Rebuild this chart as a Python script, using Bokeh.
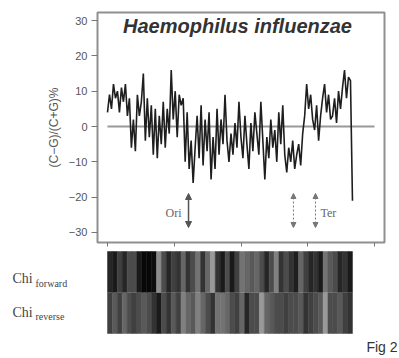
import numpy as np
from bokeh.plotting import figure
from bokeh.layouts import column
from bokeh.models import Range1d, Label, Arrow, NormalHead, FixedTicker, Title
from bokeh.embed import file_html
from bokeh.resources import INLINE

# ---------------- data ----------------
genome_length_mb = 1.835
skew_values = [
    4, 9, 5, 12, 8, 10, 4, 11, 7, 12, 3, 8, -6, 2, -7, 9, 3, 7, 15, -4,
    8, -3, 6, -8, 5, -9, 3, -5, 7, -6, 5, -2, 16, 2, 10, -3, 9, 6, 8, -10,
    4, -12, -4, -16, -6, 3, -9, 6, -11, 2, -7, 4, -15, -3, -12, 5, -8, 2, -5, 9,
    -4, -10, -2, -8, 1, -6, 7, -3, -9, 3, -5, -12, 1, -7, 4, -2, -8, 7, -4, -15,
    -3, -9, 2, -6, -1, -10, 4, -5, 6, -8, -13, -6, -10, -4, -12, -8, -5, -11, -2, 3,
    12, 5, 9, 2, -1, 6, -4, 3, 8, 12, 4, 9, 2, 3, 8, 1, 10, 5, 11, 16,
    8, 14, 13, -21,
]
x_ticks = [0, 0.5, 1.0, 1.5, 2.0]
y_ticks = [-30, -20, -10, 0, 10, 20, 30]

ori_pos = 0.607
ter_pos = [1.393, 1.558]

chi_forward = [
    0.15, 0.10, 0.25, 0.15, 0.30, 0.30, 0.10, 0.03, 0.03, 0.05,
    0.55, 0.30, 0.15, 0.25, 0.20, 0.40, 0.20, 0.30, 0.45, 0.20,
    0.40, 0.60, 0.20, 0.10, 0.30, 0.10, 0.25, 0.45, 0.40, 0.35,
    0.40, 0.30, 0.15, 0.30, 0.50, 0.20, 0.30, 0.20, 0.12, 0.40,
    0.25, 0.15, 0.20, 0.10, 0.45, 0.35, 0.30, 0.15, 0.20, 0.10,
]
chi_reverse = [
    0.25, 0.35, 0.25, 0.40, 0.30, 0.25, 0.30, 0.35, 0.30, 0.20,
    0.10, 0.30, 0.20, 0.35, 0.25, 0.50, 0.40, 0.35, 0.50, 0.40,
    0.30, 0.20, 0.45, 0.45, 0.40, 0.30, 0.25, 0.40, 0.15, 0.30,
    0.30, 0.60, 0.40, 0.35, 0.30, 0.30, 0.25, 0.30, 0.30, 0.35,
    0.20, 0.25, 0.30, 0.35, 0.60, 0.30, 0.30, 0.35, 0.25, 0.20,
]

# ---------------- layout helpers ----------------
PX0 = 107.0      # screen px of position 0
PX_PER_MB = 133.5
def px2mb(px):
    return (px - PX0) / PX_PER_MB

Y0 = 126.0
PX_PER_UNIT = 3.533
def py2val(py):
    return (Y0 - py) / PX_PER_UNIT

positions = np.linspace(0, genome_length_mb, len(skew_values))

# ---------------- top chart ----------------
p = figure(width=399, height=250, output_backend="svg", toolbar_location=None,
           x_range=Range1d(px2mb(97), px2mb(384)),
           y_range=Range1d(py2val(242), py2val(12)),
           min_border_left=97, min_border_right=15, min_border_top=12, min_border_bottom=8)
p.frame_align = False
p.grid.visible = False
p.outline_line_color = "#8f8f8f"
p.outline_line_width = 2

xa = p.xaxis[0]
xa.ticker = FixedTicker(ticks=x_ticks)
xa.major_label_overrides = {t: "" for t in x_ticks}
xa.major_label_text_font_size = "1px"
xa.major_label_standoff = 0
xa.axis_line_color = None
xa.major_tick_line_color = "#777777"
xa.major_tick_out = 4
xa.major_tick_in = 0
xa.minor_tick_line_color = None

ya = p.yaxis[0]
ya.ticker = FixedTicker(ticks=y_ticks)
ya.major_label_text_font = "Liberation Sans"
ya.major_label_text_font_size = "11px"
ya.major_label_text_color = "#555555"
ya.major_label_standoff = 4
ya.axis_line_color = None
ya.major_tick_line_color = "#777777"
ya.major_tick_out = 6
ya.major_tick_in = 0
ya.minor_tick_line_color = None

# y label as a left-side title (so it is not clipped by the frame)
p.add_layout(Title(text="(C\u2212G)/(C+G)%", align="center", offset=24, standoff=9,
                   text_font="Liberation Sans", text_font_size="12px",
                   text_font_style="normal", text_color="#555555"), "left")

# zero reference line
p.line(x=[x_ticks[0], x_ticks[-1]], y=[0, 0], line_color="#999999", line_width=2)
# skew curve
p.line(x=positions, y=skew_values, line_color="#1e1e1e", line_width=1.6)

# title
p.add_layout(Label(x=px2mb(237), y=py2val(25), text="Haemophilus influenzae",
                   text_align="center", text_baseline="middle",
                   text_font="Liberation Sans", text_font_style="bold italic",
                   text_font_size="20px", text_color="#333333"))

# Ori / Ter arrows
a_top, a_bot = py2val(193), py2val(227)
p.add_layout(Arrow(x_start=ori_pos, y_start=a_top, x_end=ori_pos, y_end=a_bot,
                   start=NormalHead(size=6, fill_color="#555555", line_color="#555555"),
                   end=NormalHead(size=6, fill_color="#555555", line_color="#555555"),
                   line_color="#555555", line_width=1.5))
for t in ter_pos:
    p.add_layout(Arrow(x_start=t, y_start=a_top, x_end=t, y_end=a_bot,
                       start=NormalHead(size=5, fill_color="#777777", line_color="#777777"),
                       end=NormalHead(size=5, fill_color="#777777", line_color="#777777"),
                       line_color="#777777", line_width=1, line_dash="2 2"))
p.add_layout(Label(x=px2mb(181), y=py2val(212), text="Ori", text_align="right",
                   text_baseline="middle", text_font="Liberation Serif",
                   text_font_size="12px", text_color="#666666"))
p.add_layout(Label(x=px2mb(320), y=py2val(212), text="Ter", text_align="left",
                   text_baseline="middle", text_font="Liberation Serif",
                   text_font_size="12px", text_color="#666666"))

# ---------------- bottom strips ----------------
q = figure(width=399, height=108, output_backend="svg", toolbar_location=None,
           x_range=Range1d(px2mb(0), px2mb(399)), y_range=Range1d(0, 108),
           min_border=0)
q.frame_align = False
q.axis.visible = False
q.grid.visible = False
q.outline_line_color = None

def grays(levels):
    out = []
    for v in levels:
        g = int(round(v * 255))
        out.append("#%02x%02x%02x" % (g, g, g))
    return out

edges_f = np.linspace(0, genome_length_mb, len(chi_forward) + 1)
edges_r = np.linspace(0, genome_length_mb, len(chi_reverse) + 1)
cf = grays(chi_forward)
cr = grays(chi_reverse)
q.quad(left=edges_f[:-1], right=edges_f[1:], top=107, bottom=66,
       fill_color=cf, line_color=cf, line_width=0.5)
q.quad(left=edges_r[:-1], right=edges_r[1:], top=65.5, bottom=25,
       fill_color=cr, line_color=cr, line_width=0.5)

def lbl(x, y, text, size, font="Liberation Serif", color="#444444", align="left"):
    q.add_layout(Label(x=x, y=y, text=text, text_align=align, text_baseline="middle",
                       text_font=font, text_font_size=size, text_color=color))

lbl(px2mb(12), 80, "Chi", "14px")
lbl(px2mb(35), 75, "forward", "10px")
lbl(px2mb(12), 46, "Chi", "14px")
lbl(px2mb(35), 42, "reverse", "10px")
lbl(px2mb(397), 12, "Fig 2", "14px", font="Liberation Sans", color="#333333", align="right")

layout = column(p, q, spacing=0)
open("out.html", "w").write(file_html(layout, INLINE))
